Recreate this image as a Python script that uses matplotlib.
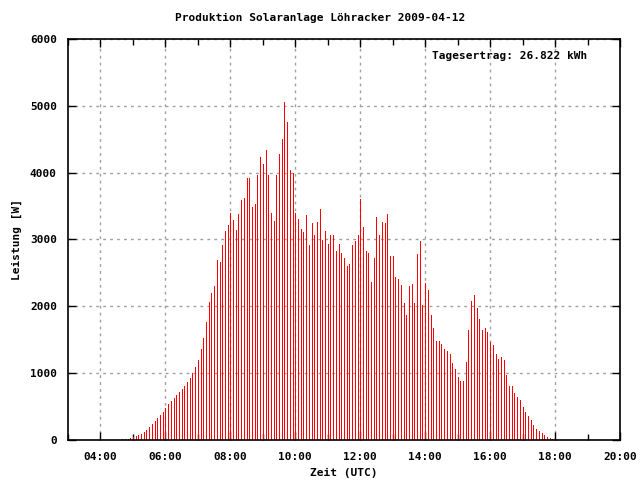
import numpy as np
import matplotlib
matplotlib.use("Agg")
import matplotlib.pyplot as plt
from matplotlib.ticker import FixedLocator, FuncFormatter

# Messwerte alle 5 Minuten ab 04:40 UTC (Leistung in W)
start_h = 4 + 40 / 60
leistung = [
    15, 15, 20, 30, 45, 65, 80, 95, 125, 155, 195, 245,            # 04:40 - 05:35
    290, 335, 375, 420, 480, 540, 585, 630, 675, 720, 765, 810,    # 05:40 - 06:35
    870, 925, 1005, 1095, 1200, 1365, 1530, 1770, 2070, 2205, 2310, 2695,  # 06:40 - 07:35
    2665, 2920, 3130, 3220, 3400, 3295, 3145, 3385, 3595, 3625, 3925, 3925,  # 07:40 - 08:35
    3490, 3535, 3970, 4240, 4130, 4340, 3970, 3400, 3280, 3970, 4280, 4505,  # 08:40 - 09:35
    5060, 4760, 4040, 4000, 3400, 3310, 3160, 3115, 3370, 2920, 3250, 3070,  # 09:40 - 10:35
    3265, 3460, 2995, 3130, 2935, 3070, 3070, 2830, 2935, 2800, 2725, 2605,  # 10:40 - 11:35
    2635, 2920, 2980, 3070, 3610, 3190, 2830, 2800, 2365, 2725, 3340, 3070,  # 11:40 - 12:35
    3265, 3250, 3385, 2755, 2755, 2440, 2410, 2320, 2050, 1870, 2305, 2335,  # 12:40 - 13:35
    2050, 2785, 2980, 2020, 2350, 2245, 1870, 1675, 1480, 1480, 1435, 1360,  # 13:40 - 14:35
    1330, 1285, 1150, 1060, 940, 880, 880, 1165, 1645, 2080, 2170, 1975,    # 14:40 - 15:35
    1810, 1645, 1675, 1615, 1465, 1420, 1285, 1210, 1240, 1195, 970, 810,   # 15:40 - 16:35
    810, 705, 645, 600, 495, 420, 360, 300, 225, 165, 135, 105,             # 16:40 - 17:35
    75, 45, 30, 15,                                                          # 17:40 - 17:55
]
zeit = start_h + np.arange(len(leistung)) * 5 / 60

titel = "Produktion Solaranlage Löhracker 2009-04-12"
ertrag = "Tagesertrag: 26.822 kWh"

plt.rcParams['font.family'] = ['DejaVu Sans Mono']
plt.rcParams['font.weight'] = 'bold'
plt.rcParams['axes.labelweight'] = 'bold'
plt.rcParams['font.size'] = 8

fig = plt.figure(figsize=(6.4, 4.8), dpi=100)
ax = fig.add_axes([68 / 640, 40 / 480, 552 / 640, 401 / 480])

ax.vlines(zeit, 0, leistung, colors='#ff0000', linewidth=0.72, antialiased=False)

ax.set_xlim(3, 20)
ax.set_ylim(0, 6000)

ax.xaxis.set_major_locator(FixedLocator(np.arange(4, 21, 2)))
ax.xaxis.set_minor_locator(FixedLocator(np.arange(3, 21, 2)))
ax.xaxis.set_major_formatter(FuncFormatter(lambda v, p: "%02d:00" % int(round(v))))
ax.yaxis.set_major_locator(FixedLocator(np.arange(0, 6001, 1000)))

ax.tick_params(which='both', direction='in', top=True, right=True, width=1,
               labelsize=8, pad=8)
ax.tick_params(which='major', length=6)
ax.tick_params(which='minor', length=4)
ax.tick_params(axis='x', pad=9)

ax.grid(True, which='major', color='#a0a0a0', linestyle=(0, (2, 3)), linewidth=1)
ax.set_axisbelow(True)
for s in ax.spines.values():
    s.set_linewidth(1.2)

ax.set_xlabel("Zeit (UTC)", labelpad=4)
ax.set_ylabel("Leistung [W]", labelpad=6)
fig.text(0.5, 1 - 18 / 480, titel, ha='center', va='center', fontsize=8)
ax.text(0.94, 0.958, ertrag, transform=ax.transAxes, ha='right', va='center', fontsize=8)

fig.savefig("out.png", dpi=100)
